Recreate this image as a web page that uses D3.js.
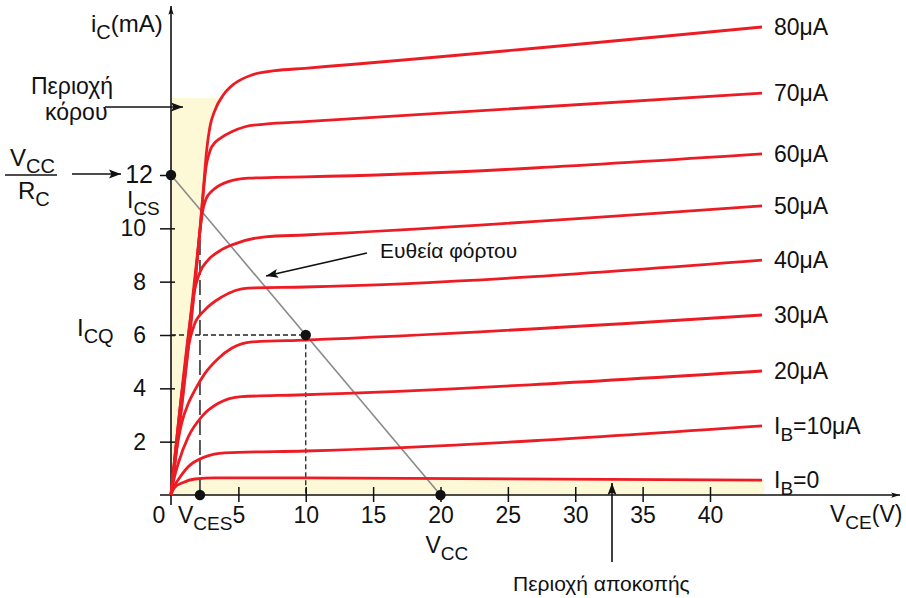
<!DOCTYPE html>
<html>
<head>
<meta charset="utf-8">
<script src="https://cdnjs.cloudflare.com/ajax/libs/d3/7.8.5/d3.min.js"></script>
<style>
  body { margin: 0; background: #fff; }
  svg text { font-family: "Liberation Sans", Arial, Helvetica, sans-serif; fill: #111; }
</style>
</head>
<body>
<svg id="chart" width="906" height="598"></svg>
<script>
// tick values
const xTicks = [5, 10, 15, 20, 25, 30, 35, 40];
const yTicks = [2, 4, 6, 8, 10, 12];

// output characteristics, [VCE (V), IC (mA)]
const ib0  = [[0,0],[0.07,0.11],[0.3,0.3],[0.82,0.45],[1.78,0.6],[3.27,0.64],[9.94,0.64],[43.86,0.56]];
const ib10 = [[0,0],[0.2,0.3],[0.52,0.56],[1.26,1.05],[2.52,1.43],[4.0,1.58],[9.94,1.65],[43.86,2.59]];
const ib20 = [[0,0],[0.2,0.55],[0.54,1.19],[1.29,2.19],[2.28,2.94],[3.51,3.44],[5.24,3.69],[9.4,3.75],[43.86,4.65]];
const ib30 = [[0,0],[0.3,1.3],[0.79,2.69],[1.29,3.44],[1.78,3.94],[2.52,4.56],[3.51,5.12],[4.5,5.5],[6.01,5.74],[9.94,5.81],[43.86,6.75]];
const ib40 = [[0,0],[1.0,4.6],[1.3,5.6],[1.7,6.35],[2.52,6.94],[3.78,7.43],[5.71,7.76],[9.94,7.8],[43.86,8.81]];
const ib50 = [[0,0],[1.4,6.45],[1.7,7.55],[2.1,8.3],[2.75,8.81],[3.6,9.15],[4.53,9.38],[6.98,9.68],[9.94,9.75],[43.86,10.84]];
const ib60 = [[0,0],[1.9,8.75],[2.15,9.9],[2.35,10.65],[2.6,11.1],[3.0,11.38],[3.27,11.5],[4.25,11.75],[5.74,11.88],[7.72,11.91],[9.94,11.93],[43.86,12.79]];
const ib70 = [[0,0],[2.15,9.94],[2.4,11.35],[2.6,12.3],[2.8,12.75],[3.02,13.06],[3.76,13.41],[4.5,13.62],[5.49,13.81],[6.98,13.91],[9.94,14.0],[43.86,15.07]];
const ib80 = [[0,0],[2.15,9.94],[2.4,11.44],[2.65,12.94],[2.89,13.81],[3.27,14.44],[3.88,15.0],[4.75,15.44],[5.99,15.75],[7.72,15.91],[9.94,16.0],[43.86,17.55]];

const curves = [ib0, ib10, ib20, ib30, ib40, ib50, ib60, ib70, ib80];
const curveLabels = ['I_{B}=0', 'I_{B}=10μA', '20μA', '30μA', '40μA', '50μA', '60μA', '70μA', '80μA'];

// saturation region edge (top corner) and operating values
const satTop = [3.78, 14.89];
const cutoffEnd = 44.0;
const VCC = 20, ICS = 12, VCES = 2.15, VCEQ = 10, ICQ = 6;

const svg = d3.select('#chart');

const x = d3.scaleLinear().domain([0, 40]).range([171, 710]);
const y = d3.scaleLinear().domain([0, 12]).range([495, 175]);

// text with _{sub} parts
function rich(sel, str, size, subSize) {
  const parts = str.split(/(_\{[^}]*\})/).filter(s => s.length);
  let shifted = false;
  parts.forEach(p => {
    if (p.startsWith('_{')) {
      sel.append('tspan').attr('font-size', subSize).attr('dy', shifted ? 0 : 7)
        .text(p.slice(2, -1));
      shifted = true;
    } else {
      sel.append('tspan').attr('font-size', size).attr('dy', shifted ? -7 : 0).text(p);
      shifted = false;
    }
  });
  return sel;
}

const defs = svg.append('defs');
defs.append('marker').attr('id', 'head')
  .attr('viewBox', '0 -5 12 10').attr('refX', 12).attr('refY', 0)
  .attr('markerUnits', 'userSpaceOnUse').attr('markerWidth', 12).attr('markerHeight', 10)
  .attr('orient', 'auto')
  .append('path').attr('d', 'M0,-4.5L12,0L0,4.5L2.5,0Z').attr('fill', '#111');
defs.append('marker').attr('id', 'axhead')
  .attr('viewBox', '0 -4 10 8').attr('refX', 10).attr('refY', 0)
  .attr('markerUnits', 'userSpaceOnUse').attr('markerWidth', 9).attr('markerHeight', 7)
  .attr('orient', 'auto')
  .append('path').attr('d', 'M0,-3L10,0L0,3L2,0Z').attr('fill', '#111');

const line = d3.line().x(d => x(d[0])).y(d => y(d[1])).curve(d3.curveMonotoneX);

// shaded regions
const satPoly = ib80.filter(d => d[1] <= 13.81).concat([satTop, [0, satTop[1]]]);
svg.append('path')
  .datum(satPoly)
  .attr('d', d3.line().x(d => x(d[0])).y(d => y(d[1])))
  .attr('fill', '#fdf8d5');

const cutoff = ib0.concat([[cutoffEnd, ib0[ib0.length - 1][1]]]);
svg.append('path')
  .datum(cutoff)
  .attr('d', d3.area().x(d => x(d[0])).y0(y(0)).y1(d => y(d[1])).curve(d3.curveMonotoneX))
  .attr('fill', '#fdf8d5');

// axes
const gx = svg.append('g').attr('transform', `translate(0,${y(0)})`)
  .call(d3.axisBottom(x).tickValues(xTicks).tickSize(8).tickPadding(0));
gx.select('.domain').remove();
gx.selectAll('.tick line').attr('y1', -8).attr('y2', 7).attr('stroke', '#111').attr('stroke-width', 1.5);
gx.selectAll('.tick text').attr('font-size', 23).attr('y', 12).attr('fill', '#111');

const gy = svg.append('g').attr('transform', `translate(${x(0)},0)`)
  .call(d3.axisLeft(y).tickValues(yTicks).tickSize(11).tickPadding(0));
gy.select('.domain').remove();
gy.selectAll('.tick line').attr('x1', -11).attr('x2', 4).attr('stroke', '#111').attr('stroke-width', 1.5);
gy.selectAll('.tick text').attr('font-size', 23).attr('x', -25).attr('fill', '#111');
gy.selectAll('.tick text').filter(d => d === 12).attr('font-size', 25).attr('x', -18).attr('dy', '0.28em');

svg.append('line').attr('x1', x(0)).attr('x2', x(0)).attr('y1', y(0) + 10).attr('y2', 6)
  .attr('stroke', '#111').attr('stroke-width', 1.6).attr('marker-end', 'url(#axhead)');
svg.append('line').attr('x1', x(0) - 11).attr('x2', 900).attr('y1', y(0)).attr('y2', y(0))
  .attr('stroke', '#111').attr('stroke-width', 1.6).attr('marker-end', 'url(#axhead)');

// dashed guides
svg.append('line').attr('x1', x(VCES)).attr('x2', x(VCES)).attr('y1', y(0)).attr('y2', y(10))
  .attr('stroke', '#333').attr('stroke-width', 1.6).attr('stroke-dasharray', '15,5');
svg.append('path')
  .attr('d', `M${x(0)},${y(ICQ)}H${x(VCEQ)}V${y(0)}`)
  .attr('fill', 'none').attr('stroke', '#222').attr('stroke-width', 1.3).attr('stroke-dasharray', '5,3');

// load line
svg.append('line').attr('x1', x(0)).attr('y1', y(ICS)).attr('x2', x(VCC)).attr('y2', y(0))
  .attr('stroke', '#8a8a8a').attr('stroke-width', 1.6);

// characteristic curves
svg.append('g').selectAll('path')
  .data(curves).enter()
  .append('path')
  .attr('d', line)
  .attr('fill', 'none')
  .attr('stroke', '#ec1c24')
  .attr('stroke-width', 2.8)
  .attr('stroke-linejoin', 'round');

// curve labels
curves.forEach((c, i) => {
  const last = c[c.length - 1];
  const t = svg.append('text').attr('x', 774).attr('y', y(last[1]) + 8);
  rich(t, curveLabels[i], 23, 19);
});

// points
svg.append('g').selectAll('circle')
  .data([[0, ICS], [VCES, 0], [VCEQ, ICQ], [VCC, 0]]).enter()
  .append('circle')
  .attr('cx', d => x(d[0])).attr('cy', d => y(d[1])).attr('r', 5.2).attr('fill', '#111');

// labels
svg.append('text').attr('x', x(0) - 12).attr('y', y(0) + 28).attr('text-anchor', 'middle')
  .attr('font-size', 23).text('0');
rich(svg.append('text').attr('x', x(VCES) - 22).attr('y', y(0) + 28), 'V_{CES}', 23, 19);
rich(svg.append('text').attr('x', x(VCC) - 15).attr('y', y(0) + 58), 'V_{CC}', 23, 19);
rich(svg.append('text').attr('x', 830).attr('y', y(0) + 27), 'V_{CE}(V)', 23, 19);
rich(svg.append('text').attr('x', 91).attr('y', 32), 'i_{C}(mA)', 24, 20);
rich(svg.append('text').attr('x', 127).attr('y', y(ICS) + 33), 'I_{CS}', 23, 19);
rich(svg.append('text').attr('x', 77).attr('y', y(ICQ) + 1), 'I_{CQ}', 24, 20);

// Vcc / Rc fraction
rich(svg.append('text').attr('x', 10).attr('y', 166), 'V_{CC}', 24, 20);
svg.append('line').attr('x1', 5).attr('x2', 57).attr('y1', 175).attr('y2', 175)
  .attr('stroke', '#111').attr('stroke-width', 1.5);
rich(svg.append('text').attr('x', 18).attr('y', 199), 'R_{C}', 24, 20);

// annotations
svg.append('text').attr('x', 31).attr('y', 94).attr('font-size', 23).text('Περιοχή');
svg.append('text').attr('x', 45).attr('y', 120).attr('font-size', 23).text('κόρου');
svg.append('text').attr('x', 380).attr('y', 258).attr('font-size', 21).text('Ευθεία φόρτου');
svg.append('text').attr('x', 513).attr('y', 591).attr('font-size', 21).text('Περιοχή αποκοπής');

const arrows = [
  [105, 107, 183, 107],
  [72, 174, 121, 174],
  [367, 253, 266, 276],
  [612, 562, 612, 483]
];
svg.append('g').selectAll('line')
  .data(arrows).enter()
  .append('line')
  .attr('x1', d => d[0]).attr('y1', d => d[1]).attr('x2', d => d[2]).attr('y2', d => d[3])
  .attr('stroke', '#111').attr('stroke-width', 1.6).attr('marker-end', 'url(#head)');
</script>
</body>
</html>
